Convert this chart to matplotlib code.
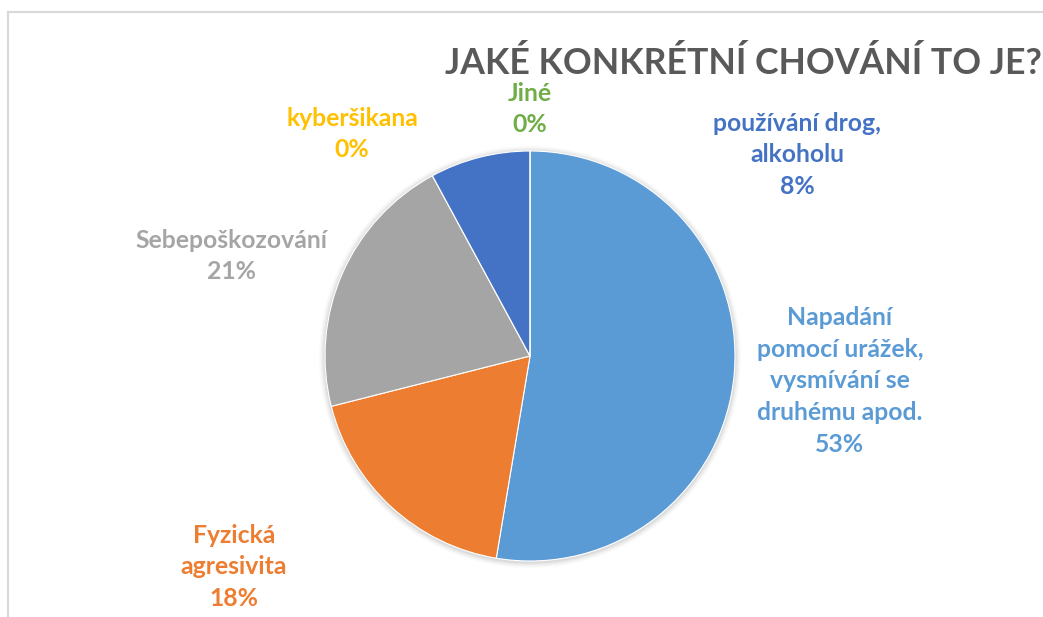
import matplotlib
matplotlib.use("Agg")
import matplotlib.pyplot as plt
from matplotlib.patches import Circle

# answers counted in the survey (38 respondents)
categories = [
    "Napadání\npomocí urážek,\nvysmívání se\ndruhému apod.",
    "Fyzická\nagresivita",
    "Sebepoškozování",
    "kyberšikana",
    "používání drog,\nalkoholu",
    "Jiné",
]
counts = [20, 7, 8, 0, 3, 0]
colors = ["#5B9BD5", "#ED7D31", "#A5A5A5", "#FFC000", "#4472C4", "#70AD47"]
title = "JAKÉ KONKRÉTNÍ CHOVÁNÍ TO JE?"

# label block centres in pixels (x, y from top)
label_pos = [(840, 381), (234, 567), (231, 256), (352, 134), (797, 155), (530, 109)]

W, H = 1043, 617
FONT = "Lato"

fig = plt.figure(figsize=(W / 100, H / 100), dpi=100, facecolor="white")
ax = fig.add_axes([0, 0, 1, 1])
ax.set_xlim(0, W)
ax.set_ylim(0, H)
ax.set_aspect("equal")
ax.axis("off")

# chart area border (left and top edges visible)
ax.plot([8, 8], [0, H - 12], color="#D9D9D9", lw=1.5)
ax.plot([8, W], [H - 12, H - 12], color="#D9D9D9", lw=1.5)

cx, cy, r = 530, H - 356, 205

# soft shadow
for i, a in enumerate([0.05, 0.04, 0.03, 0.02]):
    ax.add_patch(Circle((cx, cy - 1), r + 1.5 + i * 1.5, color="black", alpha=a, lw=0))

ax.pie(counts, colors=colors, startangle=90, counterclock=False,
       center=(cx, cy), radius=r, frame=True,
       wedgeprops={"linewidth": 0.8, "edgecolor": "white"})
ax.set_xlim(0, W)
ax.set_ylim(0, H)
ax.axis("off")

total = sum(counts)
renderer = fig.canvas.get_renderer()


def fit(txt, target_w):
    txt.set_fontsize(20)
    w = txt.get_window_extent(renderer).width
    txt.set_fontsize(20 * target_w / w)


# title, fitted to the width of the original
t = ax.text(445, H - 63, title, fontsize=30, fontweight="bold", color="#595959",
            family=FONT, ha="left", va="center")
fit(t, 596)

# label font size fitted on one single-line label (Lato is a bit wider than the original)
probe = ax.text(0, 0, "Sebepoškozování", fontweight="bold", family=FONT)
fit(probe, 192)
lab_size = probe.get_fontsize()
probe.remove()

for name, n, col, (x, y) in zip(categories, counts, colors, label_pos):
    pct = 100 * n / total
    ax.text(x, H - y, f"{name}\n{pct:.0f}%", fontsize=lab_size, fontweight="bold",
            color=col, family=FONT, ha="center", va="center",
            linespacing=1.46, multialignment="center")

fig.savefig("out.png", dpi=100, facecolor="white")
